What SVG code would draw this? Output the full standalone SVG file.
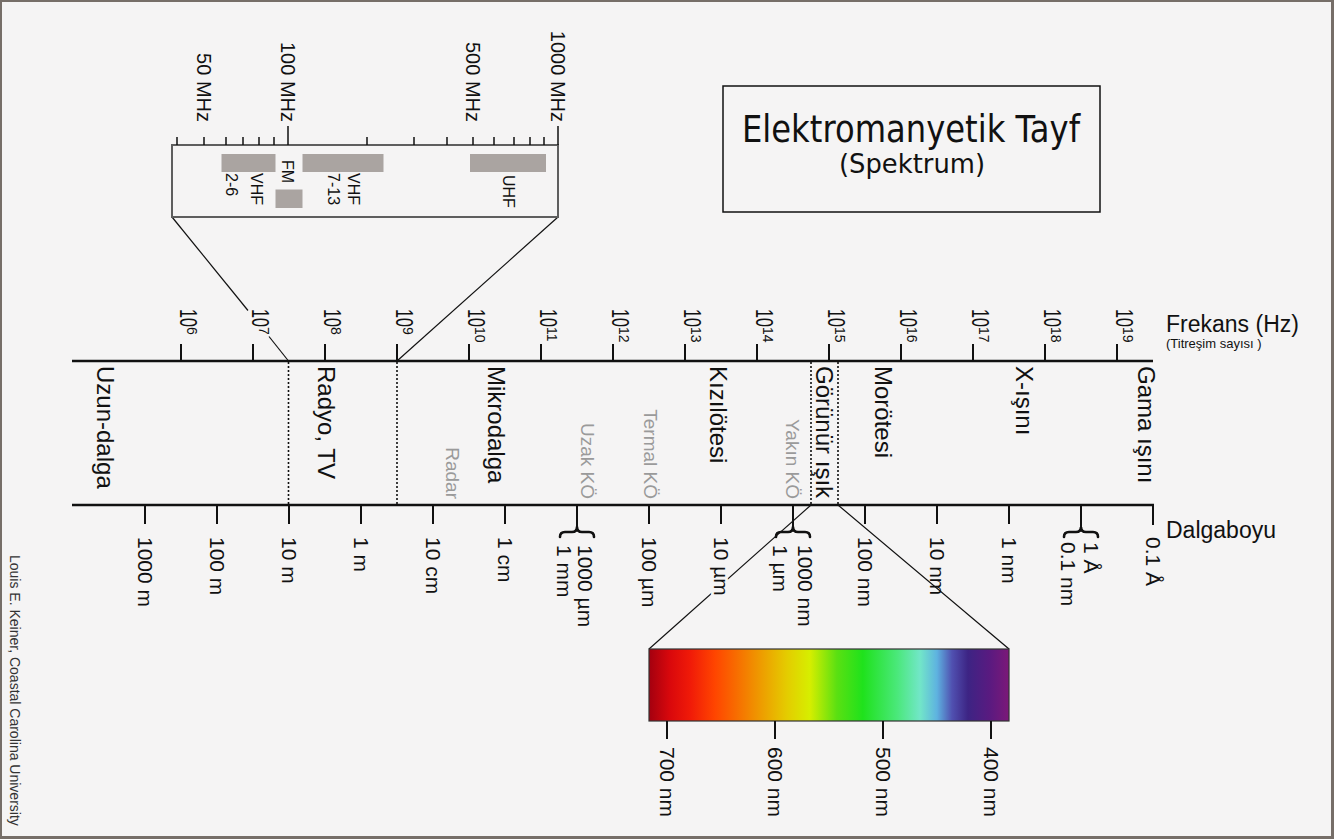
<svg xmlns="http://www.w3.org/2000/svg" width="1334" height="839" viewBox="0 0 1334 839">
<defs>
<linearGradient id="vis" x1="0" y1="0" x2="1" y2="0">
<stop offset="0" stop-color="#a3000f"/>
<stop offset="0.058" stop-color="#d9080c"/>
<stop offset="0.114" stop-color="#f01a08"/>
<stop offset="0.183" stop-color="#ff4500"/>
<stop offset="0.239" stop-color="#f86a00"/>
<stop offset="0.317" stop-color="#eda000"/>
<stop offset="0.383" stop-color="#e4cc00"/>
<stop offset="0.447" stop-color="#d6ee00"/>
<stop offset="0.522" stop-color="#5ae012"/>
<stop offset="0.594" stop-color="#1fe21c"/>
<stop offset="0.689" stop-color="#4ae87a"/>
<stop offset="0.753" stop-color="#72e6c8"/>
<stop offset="0.8" stop-color="#5eb2e0"/>
<stop offset="0.842" stop-color="#5050b0"/>
<stop offset="0.886" stop-color="#3d2484"/>
<stop offset="0.947" stop-color="#5a1a80"/>
<stop offset="1" stop-color="#7c1878"/>
</linearGradient>
<style>
text{font-family:"Liberation Sans",Arial,sans-serif;fill:#111}
.ax{stroke:#111;stroke-width:2.5;fill:none}
.tk{stroke:#111;stroke-width:2;fill:none}
.dot{stroke:#111;stroke-width:1.6;stroke-dasharray:2 2;fill:none}
.con{stroke:#111;stroke-width:1.2;fill:none}
.halo{stroke:#f5f4f4;stroke-width:6;paint-order:stroke;stroke-linejoin:round}
.fx{font-size:23px}
.sup{font-size:14px}
.wl{font-size:21px}
.cat{font-size:24px}
.sub{font-size:19px;fill:#9a9a9a}
.mhz{font-size:20px}
.band{font-size:16px}
.bar{fill:#aaa4a1}
.brace{stroke:#111;stroke-width:2.6;fill:none;stroke-linecap:round}
</style>
</defs>
<rect x="0" y="0" width="1334" height="839" fill="#f5f4f4"/>
<g id="frame" fill="#766e68">
<rect x="0" y="0" width="1334" height="2"/>
<rect x="0" y="0" width="2" height="839"/>
<rect x="1331" y="0" width="3" height="839"/>
<rect x="0" y="836" width="1334" height="3"/>
</g>

<g id="connectors">
<line class="con" x1="172" y1="217" x2="248" y2="310.5"/>
<line class="con" x1="269" y1="336.5" x2="288.5" y2="361"/>
<line class="con" x1="558" y1="217" x2="397" y2="361"/>
<line class="con" x1="811" y1="505" x2="649" y2="649"/>
<line class="con" x1="838" y1="505" x2="1009" y2="649"/>
</g>

<g id="title">
<rect x="723" y="86" width="377" height="126" fill="none" stroke="#111" stroke-width="1.5"/>
<text x="911" y="142" text-anchor="middle" style="font-family:'DejaVu Sans',sans-serif;font-size:37px" textLength="338" lengthAdjust="spacingAndGlyphs">Elektromanyetik Tayf</text>
<text x="912" y="173" text-anchor="middle" style="font-family:'DejaVu Sans',sans-serif;font-size:27px" textLength="146" lengthAdjust="spacingAndGlyphs">(Spektrum)</text>
</g>

<g id="inset">
<rect x="172" y="145" width="386" height="72" fill="none" stroke="#5e5e5e" stroke-width="2"/>
<path class="tk" style="stroke-width:1.5" d="M177,137V145M204,137V145M226,137V145M243,137V145M259,137V145M274,137V145M288,126V145M367,137V145M414,137V145M447,137V145M473,137V145M494,137V145M514,137V145M530,137V145M544,137V145M558,126V145"/>
<text class="mhz" transform="translate(197,122) rotate(90)" text-anchor="end">50 MHz</text>
<text class="mhz" transform="translate(280.5,122) rotate(90)" text-anchor="end">100 MHz</text>
<text class="mhz" transform="translate(466,122) rotate(90)" text-anchor="end">500 MHz</text>
<text class="mhz" transform="translate(551,122) rotate(90)" text-anchor="end">1000 MHz</text>
<rect class="bar" x="221.5" y="154" width="54" height="18"/>
<rect class="bar" x="275.5" y="189.5" width="27" height="18.5"/>
<rect class="bar" x="302.5" y="154" width="81" height="18"/>
<rect class="bar" x="470" y="154" width="76" height="18"/>
<text class="band" transform="translate(251,173) rotate(90)">VHF</text>
<text class="band" transform="translate(226,173) rotate(90)">2-6</text>
<text class="band" transform="translate(282,160) rotate(90)">FM</text>
<text class="band" transform="translate(347.5,173) rotate(90)">VHF</text>
<text class="band" transform="translate(327.5,173) rotate(90)">7-13</text>
<text class="band" transform="translate(502.5,175) rotate(90)">UHF</text>
</g>

<g id="frequency-axis">
<line class="ax" x1="72" y1="361" x2="1153" y2="361"/>
<path class="tk" d="M181,344V361M253,344V361M325,344V361M397,344V361M469,344V361M541,344V361M613,344V361M685,344V361M757,344V361M829,344V361M901,344V361M973,344V361M1045,344V361M1117,344V361"/>
<g transform="translate(180,309) rotate(90)"><text class="fx" transform="scale(0.7,1)">10</text><text class="sup" x="18" y="-7">6</text></g>
<g transform="translate(252,309) rotate(90)"><text class="fx" transform="scale(0.7,1)">10</text><text class="sup" x="18" y="-7">7</text></g>
<g transform="translate(324,309) rotate(90)"><text class="fx" transform="scale(0.7,1)">10</text><text class="sup" x="18" y="-7">8</text></g>
<g transform="translate(396,309) rotate(90)"><text class="fx" transform="scale(0.7,1)">10</text><text class="sup" x="18" y="-7">9</text></g>
<g transform="translate(468,309) rotate(90)"><text class="fx" transform="scale(0.7,1)">10</text><text class="sup" x="18" y="-7">10</text></g>
<g transform="translate(540,309) rotate(90)"><text class="fx" transform="scale(0.7,1)">10</text><text class="sup" x="18" y="-7">11</text></g>
<g transform="translate(612,309) rotate(90)"><text class="fx" transform="scale(0.7,1)">10</text><text class="sup" x="18" y="-7">12</text></g>
<g transform="translate(684,309) rotate(90)"><text class="fx" transform="scale(0.7,1)">10</text><text class="sup" x="18" y="-7">13</text></g>
<g transform="translate(756,309) rotate(90)"><text class="fx" transform="scale(0.7,1)">10</text><text class="sup" x="18" y="-7">14</text></g>
<g transform="translate(828,309) rotate(90)"><text class="fx" transform="scale(0.7,1)">10</text><text class="sup" x="18" y="-7">15</text></g>
<g transform="translate(900,309) rotate(90)"><text class="fx" transform="scale(0.7,1)">10</text><text class="sup" x="18" y="-7">16</text></g>
<g transform="translate(972,309) rotate(90)"><text class="fx" transform="scale(0.7,1)">10</text><text class="sup" x="18" y="-7">17</text></g>
<g transform="translate(1044,309) rotate(90)"><text class="fx" transform="scale(0.7,1)">10</text><text class="sup" x="18" y="-7">18</text></g>
<g transform="translate(1116,309) rotate(90)"><text class="fx" transform="scale(0.7,1)">10</text><text class="sup" x="18" y="-7">19</text></g>
<text x="1166" y="332" style="font-size:23px">Frekans (Hz)</text>
<text x="1166" y="348" style="font-size:13px">(Titreşim sayısı )</text>
</g>

<g id="regions">
<line class="dot" x1="288.5" y1="362" x2="288.5" y2="504"/>
<line class="dot" x1="397" y1="362" x2="397" y2="504"/>
<line class="dot" x1="811" y1="362" x2="811" y2="504"/>
<line class="dot" x1="838" y1="362" x2="838" y2="504"/>
<text class="cat" transform="translate(96.5,366) rotate(90)">Uzun-dalga</text>
<text class="cat" transform="translate(317.5,366) rotate(90)">Radyo, TV</text>
<text class="cat" transform="translate(487.5,366) rotate(90)">Mikrodalga</text>
<text class="cat" transform="translate(709.5,366) rotate(90)">Kızılötesi</text>
<text class="cat" transform="translate(815.5,366) rotate(90)">Görünür ışık</text>
<text class="cat" transform="translate(874.5,366) rotate(90)">Morötesi</text>
<text class="cat" transform="translate(1015.5,366) rotate(90)">X-ışını</text>
<text class="cat" transform="translate(1137.5,366) rotate(90)">Gama ışını</text>
<text class="sub" transform="translate(445.5,499) rotate(90)" text-anchor="end">Radar</text>
<text class="sub" transform="translate(581,499) rotate(90)" text-anchor="end">Uzak KÖ</text>
<text class="sub" transform="translate(643.5,499) rotate(90)" text-anchor="end">Termal KÖ</text>
<text class="sub" transform="translate(785.5,499) rotate(90)" text-anchor="end">Yakın KÖ</text>
</g>

<g id="wavelength-axis">
<line class="ax" x1="72" y1="505" x2="1154" y2="505"/>
<path class="tk" d="M145,505V524M217,505V524M289,505V524M361,505V524M433,505V524M505,505V524M577,505V528M649,505V524M721,505V524M793,505V528M865,505V524M937,505V524M1009,505V524M1081,505V528M1153,505V525"/>
<path class="brace halo" d="M560,537Q560,532 565,532L572,532Q577,532 577,527Q577,532 582,532L589,532Q594,532 594,537"/>
<path class="brace halo" d="M776,537Q776,532 781,532L788,532Q793,532 793,527Q793,532 798,532L805,532Q810,532 810,537"/>
<path class="brace" d="M1064,537Q1064,532 1069,532L1076,532Q1081,532 1081,527Q1081,532 1086,532L1093,532Q1098,532 1098,537"/>
<g class="wl">
<text transform="translate(137.5,537) rotate(90)">1000 m</text>
<text transform="translate(209.5,537) rotate(90)">100 m</text>
<text transform="translate(281.5,537) rotate(90)">10 m</text>
<text transform="translate(353.5,537) rotate(90)">1 m</text>
<text transform="translate(425.5,537) rotate(90)">10 cm</text>
<text transform="translate(497.5,537) rotate(90)">1 cm</text>
<text transform="translate(577.5,545) rotate(90)">1000 µm</text>
<text transform="translate(556.5,545) rotate(90)">1 mm</text>
<text transform="translate(641.5,537) rotate(90)">100 µm</text>
<text class="halo" transform="translate(713.5,537) rotate(90)">10 µm</text>
<text transform="translate(797.5,545) rotate(90)">1000 nm</text>
<text class="halo" transform="translate(772.5,545) rotate(90)">1 µm</text>
<text transform="translate(857.5,537) rotate(90)">100 nm</text>
<text transform="translate(929.5,537) rotate(90)">10 nm</text>
<text transform="translate(1001.5,537) rotate(90)">1 nm</text>
<text transform="translate(1083.5,542) rotate(90)">1 Å</text>
<text transform="translate(1060.5,542) rotate(90)">0.1 nm</text>
<text transform="translate(1145.5,537) rotate(90)">0.1 Å</text>
</g>
<text x="1166" y="538" style="font-size:23px">Dalgaboyu</text>
</g>

<g id="visible-spectrum">
<rect x="649" y="649" width="360" height="72" fill="url(#vis)" stroke="#333" stroke-width="1.2"/>
<path class="tk" d="M667,721V739M775,721V739M883,721V739M991,721V739"/>
<g class="wl">
<text transform="translate(659.5,747) rotate(90)">700 nm</text>
<text transform="translate(767.5,747) rotate(90)">600 nm</text>
<text transform="translate(875.5,747) rotate(90)">500 nm</text>
<text transform="translate(983.5,747) rotate(90)">400 nm</text>
</g>
</g>

<g id="credit">
<text transform="translate(10,555) rotate(90)" style="font-size:14px;fill:#333">Louis E. Keiner, Coastal Carolina University</text>
</g>
</svg>
